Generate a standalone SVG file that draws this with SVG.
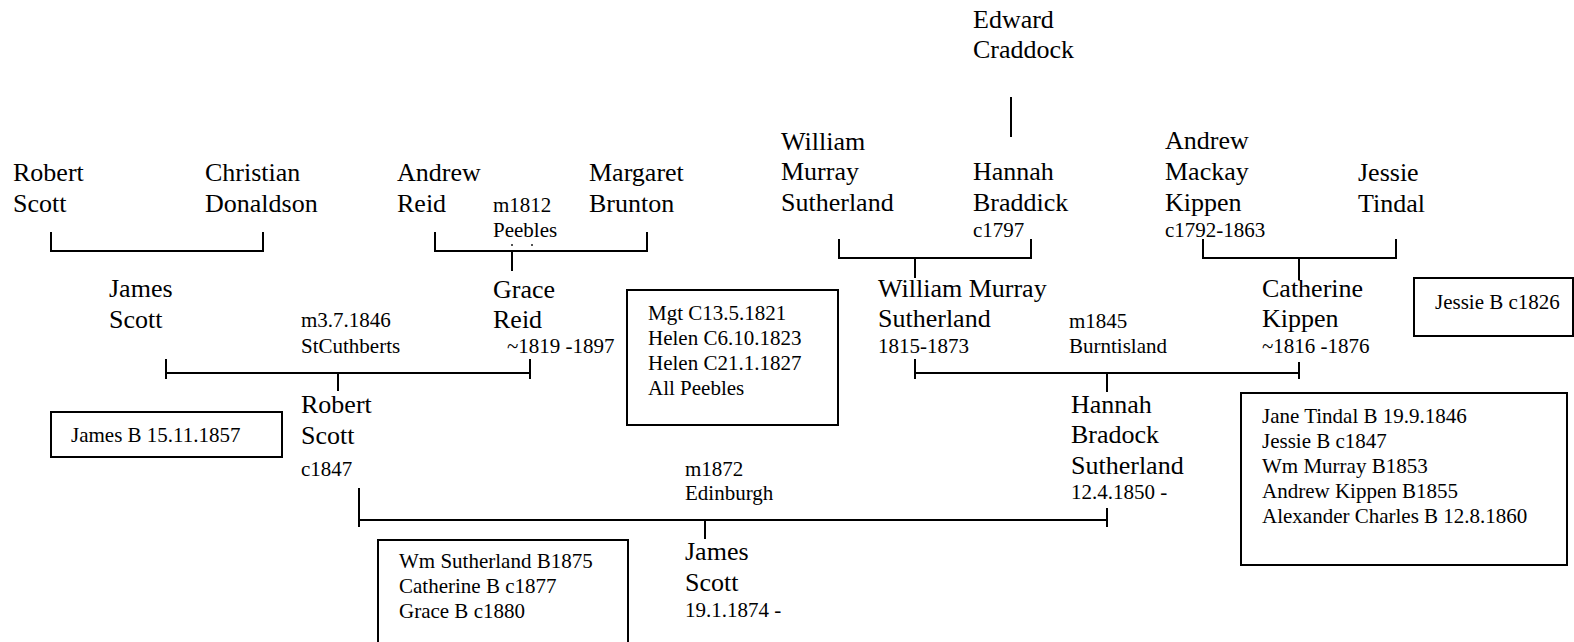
<svg xmlns="http://www.w3.org/2000/svg" width="1574" height="642" viewBox="0 0 1574 642">
<style>
text{font-family:"Liberation Serif","Times New Roman",serif;fill:#000}
.L{font-size:26px}
.S{font-size:21px}
.ln{fill:none;stroke:#000;stroke-width:2}
.bx{fill:#fff;stroke:#000;stroke-width:2}
</style>
<rect width="1574" height="642" fill="#fff"/>
<g id="connectors">
<path class="ln" d="M51,232V251H263V232"/>
<path class="ln" d="M435,232V251H647V232M512,251V271"/>
<path class="ln" d="M1011,97V137"/>
<path class="ln" d="M839,239V258H1031V239M915,258V278"/>
<path class="ln" d="M1203,239V258H1396V239M1299,258V280"/>
<path class="ln" d="M166,359V379M166,373H530M530,359V379M338,373V391"/>
<path class="ln" d="M915,359V379M915,373H1299M1299,362V379M1107,373V392"/>
<path class="ln" d="M359,488V527M359,520H1107M1107,508V527M705,520V539"/>
<rect x="511" y="244" width="2" height="2" fill="#555"/>
<rect x="531" y="244" width="2" height="2" fill="#555"/>
</g>
<g id="robert-scott-sr"><text class="L" x="13" y="181">Robert</text><text class="L" x="13" y="212">Scott</text></g>
<g id="christian-donaldson"><text class="L" x="205" y="181">Christian</text><text class="L" x="205" y="212">Donaldson</text></g>
<g id="andrew-reid"><text class="L" x="397" y="181">Andrew</text><text class="L" x="397" y="212">Reid</text></g>
<g id="m1812"><text class="S" x="493" y="212">m1812</text><text class="S" x="493" y="237">Peebles</text></g>
<g id="margaret-brunton"><text class="L" x="589" y="181">Margaret</text><text class="L" x="589" y="212">Brunton</text></g>
<g id="edward-craddock"><text class="L" x="973" y="28">Edward</text><text class="L" x="973" y="58">Craddock</text></g>
<g id="william-murray-sutherland-sr"><text class="L" x="781" y="150">William</text><text class="L" x="781" y="180">Murray</text><text class="L" x="781" y="211">Sutherland</text></g>
<g id="hannah-braddick"><text class="L" x="973" y="180">Hannah</text><text class="L" x="973" y="211">Braddick</text><text class="S" x="973" y="237">c1797</text></g>
<g id="andrew-kippen"><text class="L" x="1165" y="149">Andrew</text><text class="L" x="1165" y="180">Mackay</text><text class="L" x="1165" y="211">Kippen</text><text class="S" x="1165" y="237">c1792-1863</text></g>
<g id="jessie-tindal"><text class="L" x="1358" y="181">Jessie</text><text class="L" x="1358" y="212">Tindal</text></g>
<g id="james-scott-sr"><text class="L" x="109" y="297">James</text><text class="L" x="109" y="328">Scott</text></g>
<g id="m1846"><text class="S" x="301" y="327">m3.7.1846</text><text class="S" x="301" y="353">StCuthberts</text></g>
<g id="grace-reid"><text class="L" x="493" y="298">Grace</text><text class="L" x="493" y="328">Reid</text><text class="S" x="507" y="353">~1819 -1897</text></g>
<g id="reid-children"><rect class="bx" x="627" y="290" width="211" height="135"/><text class="S" x="648" y="320">Mgt C13.5.1821</text><text class="S" x="648" y="345">Helen C6.10.1823</text><text class="S" x="648" y="370">Helen C21.1.1827</text><text class="S" x="648" y="395">All Peebles</text></g>
<g id="william-murray-sutherland"><text class="L" x="878" y="297">William Murray</text><text class="L" x="878" y="327">Sutherland</text><text class="S" x="878" y="353">1815-1873</text></g>
<g id="m1845"><text class="S" x="1069" y="328">m1845</text><text class="S" x="1069" y="353">Burntisland</text></g>
<g id="catherine-kippen"><text class="L" x="1262" y="297">Catherine</text><text class="L" x="1262" y="327">Kippen</text><text class="S" x="1262" y="353">~1816 -1876</text></g>
<g id="kippen-children"><rect class="bx" x="1414" y="278" width="159" height="58"/><text class="S" x="1435" y="309">Jessie B c1826</text></g>
<g id="sutherland-children"><rect class="bx" x="1241" y="393" width="326" height="172"/><text class="S" x="1262" y="423">Jane Tindal B 19.9.1846</text><text class="S" x="1262" y="448">Jessie B c1847</text><text class="S" x="1262" y="473">Wm Murray B1853</text><text class="S" x="1262" y="498">Andrew Kippen B1855</text><text class="S" x="1262" y="523">Alexander Charles B 12.8.1860</text></g>
<g id="scott-children"><rect class="bx" x="51" y="412" width="231" height="45"/><text class="S" x="71" y="442">James B 15.11.1857</text></g>
<g id="robert-scott"><text class="L" x="301" y="413">Robert</text><text class="L" x="301" y="444">Scott</text><text class="S" x="301" y="476">c1847</text></g>
<g id="hannah-sutherland"><text class="L" x="1071" y="413">Hannah</text><text class="L" x="1071" y="443">Bradock</text><text class="L" x="1071" y="474">Sutherland</text><text class="S" x="1071" y="499">12.4.1850 -</text></g>
<g id="m1872"><text class="S" x="685" y="476">m1872</text><text class="S" x="685" y="500">Edinburgh</text></g>
<g id="james-scott"><text class="L" x="685" y="560">James</text><text class="L" x="685" y="591">Scott</text><text class="S" x="685" y="617">19.1.1874 -</text></g>
<g id="james-children"><rect class="bx" x="378" y="540" width="250" height="110"/><text class="S" x="399" y="568">Wm Sutherland B1875</text><text class="S" x="399" y="593">Catherine B c1877</text><text class="S" x="399" y="618">Grace B c1880</text></g>
</svg>
